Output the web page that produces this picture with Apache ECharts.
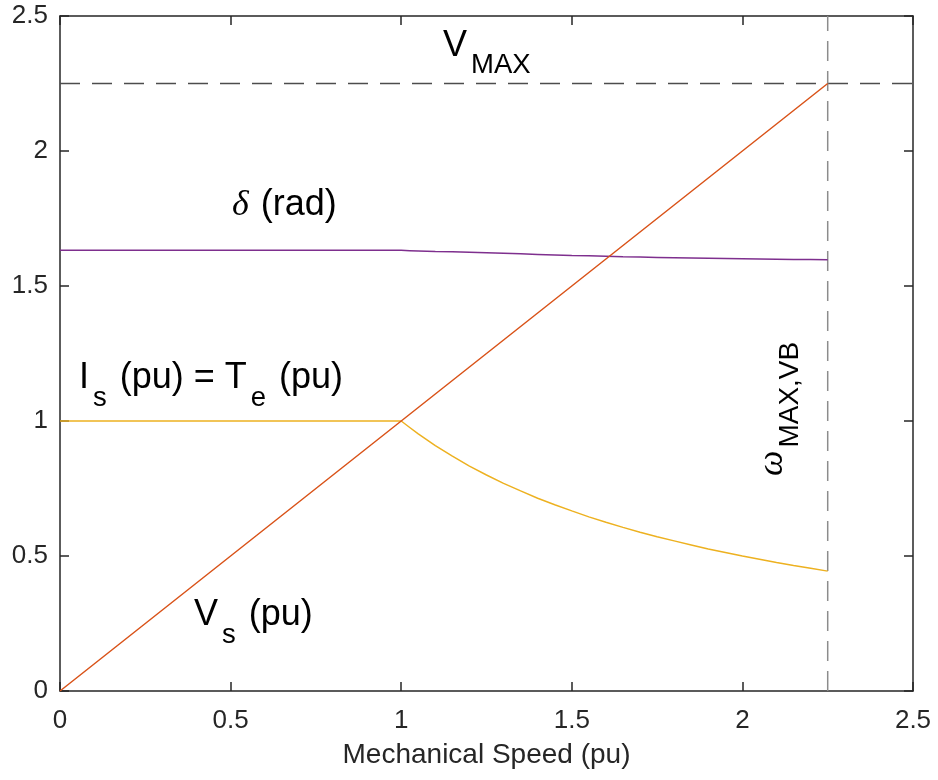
<!DOCTYPE html>
<html>
<head>
<meta charset="utf-8">
<script src="https://cdn.jsdelivr.net/npm/echarts@6/dist/echarts.min.js"></script>
<style>
html,body{margin:0;padding:0;background:#fff;}
#main{width:938px;height:780px;}
</style>
</head>
<body>
<div id="main"></div>
<script>
// ---- data ----
const speed     = [0, 0.5, 1, 1.025, 1.05, 1.1, 1.15, 1.2, 1.25, 1.3, 1.35, 1.4, 1.45, 1.5, 1.55, 1.6, 1.65, 1.7, 1.75, 1.8, 1.85, 1.9, 1.95, 2.0, 2.05, 2.1, 2.15, 2.2, 2.25];
const vsPu      = [0, 0.5, 1, 1.025, 1.05, 1.1, 1.15, 1.2, 1.25, 1.3, 1.35, 1.4, 1.45, 1.5, 1.55, 1.6, 1.65, 1.7, 1.75, 1.8, 1.85, 1.9, 1.95, 2.0, 2.05, 2.1, 2.15, 2.2, 2.25];
const isTePu    = [1, 1, 1, 0.976, 0.952, 0.909, 0.870, 0.833, 0.800, 0.769, 0.741, 0.714, 0.690, 0.667, 0.645, 0.625, 0.606, 0.588, 0.571, 0.556, 0.541, 0.526, 0.513, 0.500, 0.488, 0.476, 0.465, 0.455, 0.444];
const deltaRad  = [1.632, 1.632, 1.632, 1.631, 1.630, 1.628, 1.627, 1.625, 1.623, 1.621, 1.619, 1.617, 1.615, 1.613, 1.612, 1.610, 1.608, 1.607, 1.606, 1.605, 1.604, 1.603, 1.602, 1.601, 1.600, 1.599, 1.598, 1.598, 1.597];
const vMaxLevel = 2.25;
const omegaMax  = 2.25;
const axisRange = [0, 2.5];
const tickStep  = 0.5;

const zip = (xs, ys) => xs.map((x, i) => [x, ys[i]]);

const chart = echarts.init(document.getElementById('main'), null, {renderer: 'canvas'});

const AX = '#262626';
const SANS = '"Liberation Sans", Arial, sans-serif';
const SERIF = '"Liberation Serif", "DejaVu Serif", serif';

const axisCommon = {
  type: 'value', min: axisRange[0], max: axisRange[1], interval: tickStep,
  axisLine: {show: true, onZero: false, lineStyle: {color: AX, width: 1.5}},
  axisTick: {show: true, inside: true, length: 9, lineStyle: {color: AX, width: 1.5}},
  splitLine: {show: false},
};

// text layout helper for sub-scripted annotations
const cv = document.createElement('canvas').getContext('2d');
function measure(t, font){ cv.font = font; return cv.measureText(t).width; }
const BASE = 0.3465;
function label(x0, y0, parts, rotation){
  let cx = 0; const children = [];
  parts.forEach(p => {
    const fam = p.serif ? SERIF : SANS;
    const font = (p.italic ? 'italic ' : '') + p.fs + 'px ' + fam;
    cx += p.gap || 0;
    children.push({
      type: 'text', x: cx, y: (p.dy || 0) - BASE * p.fs,
      style: {text: p.t, font: font, fill: '#000',
              align: 'left', verticalAlign: 'middle',
              textAlign: 'left', textVerticalAlign: 'middle'}
    });
    cx += measure(p.t, font);
  });
  return {type: 'group', x: x0, y: y0, rotation: rotation || 0, children: children};
}

const option = {
  animation: false,
  backgroundColor: '#fff',
  grid: {left: 60, right: 25, top: 16, bottom: 89, containLabel: false},
  xAxis: [
    Object.assign({}, axisCommon, {
      position: 'bottom',
      name: 'Mechanical Speed (pu)', nameLocation: 'middle', nameGap: 50,
      nameTextStyle: {color: AX, fontSize: 28, fontFamily: SANS},
      axisLabel: {color: AX, fontSize: 26, fontFamily: SANS, margin: 17,
        formatter: v => String(v)}
    }),
    Object.assign({}, axisCommon, {position: 'top', axisLabel: {show: false}})
  ],
  yAxis: [
    Object.assign({}, axisCommon, {
      position: 'left',
      axisLabel: {color: AX, fontSize: 26, fontFamily: SANS, margin: 12,
        formatter: v => String(v)}
    }),
    Object.assign({}, axisCommon, {position: 'right', axisLabel: {show: false}})
  ],
  series: [
    {type: 'line', name: 'Vmax', data: [[axisRange[0], vMaxLevel], [axisRange[1], vMaxLevel]],
     symbol: 'none', lineStyle: {color: '#4d4d4d', width: 1.5, type: [20, 12]}, z: 1, silent: true},
    {type: 'line', name: 'omega', data: [[omegaMax, axisRange[0]], [omegaMax, axisRange[1]]],
     symbol: 'none', lineStyle: {color: '#8c8c8c', width: 1.5, type: [20, 10]}, z: 1, silent: true},
    {type: 'line', name: 'delta', data: zip(speed, deltaRad), symbol: 'none',
     lineStyle: {color: '#7E2F8E', width: 1.5}, z: 2},
    {type: 'line', name: 'Is', data: zip(speed, isTePu), symbol: 'none',
     lineStyle: {color: '#EDB120', width: 1.5}, z: 3},
    {type: 'line', name: 'Vs', data: zip(speed, vsPu), symbol: 'none',
     lineStyle: {color: '#D95319', width: 1.5}, z: 4}
  ],
  graphic: [
    label(443, 58.3, [{t: 'V', fs: 36}, {t: 'MAX', fs: 27.5, dy: 17, gap: 4}]),
    label(232, 218, [{t: 'δ', fs: 36, serif: true, italic: true}, {t: ' (rad)', fs: 36, gap: 2}]),
    label(79, 390.7, [{t: 'I', fs: 36}, {t: 's', fs: 27.5, dy: 17, gap: 4},
                      {t: ' (pu) = T', fs: 36, gap: 3}, {t: 'e', fs: 27.5, dy: 17, gap: 4},
                      {t: ' (pu)', fs: 36, gap: 3}]),
    label(194, 627.7, [{t: 'V', fs: 36}, {t: 's', fs: 27.5, dy: 17, gap: 4}, {t: ' (pu)', fs: 36, gap: 3}]),
    label(785, 476, [{t: 'ω', fs: 36, serif: true, italic: true}, {t: 'MAX,VB', fs: 28, dy: 15, gap: 3}], Math.PI / 2)
  ]
};
chart.setOption(option);
</script>
</body>
</html>
